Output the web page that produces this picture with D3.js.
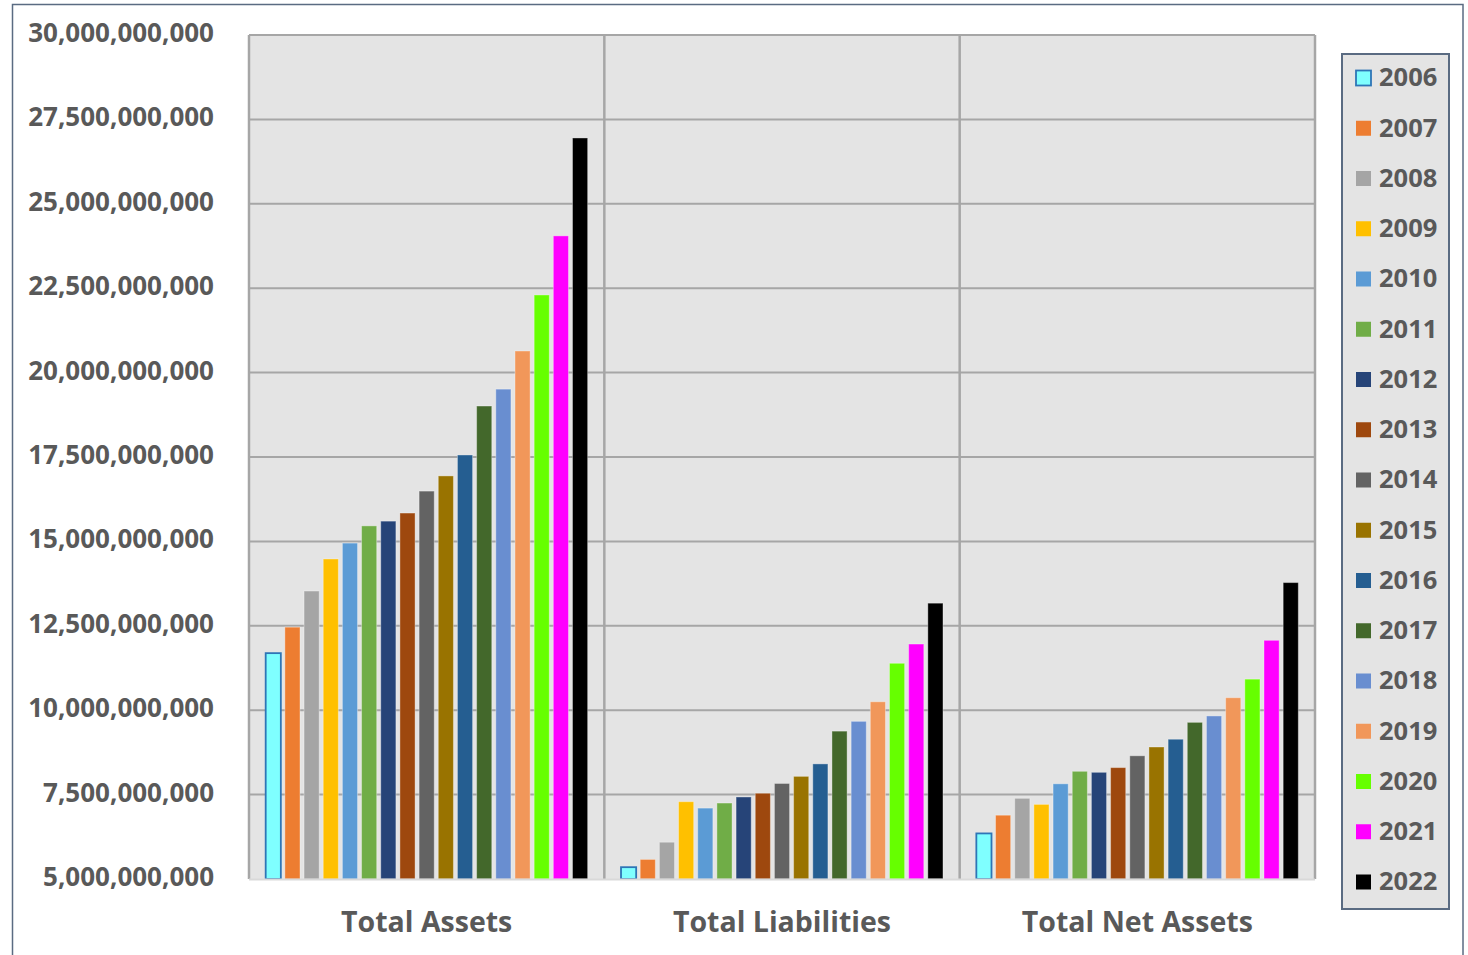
<!DOCTYPE html>
<html>
<head>
<meta charset="utf-8">
<script src="https://cdn.jsdelivr.net/npm/d3@7"></script>
<style>
  html, body { margin: 0; padding: 0; background: #fff; }
  svg { display: block; }
  text { font-family: "Open Sans", Lato, sans-serif; font-weight: 700; fill: #595959; }
</style>
</head>
<body>
<svg id="chart" width="1468" height="955"></svg>
<script>
const categories = ["Total Assets", "Total Liabilities", "Total Net Assets"];
const years = ["2006","2007","2008","2009","2010","2011","2012","2013","2014","2015","2016","2017","2018","2019","2020","2021","2022"];
const totalAssets      = [11.69e9,12.46e9,13.53e9,14.48e9,14.95e9,15.46e9,15.60e9,15.84e9,16.49e9,16.94e9,17.56e9,19.01e9,19.51e9,20.64e9,22.30e9,24.05e9,26.95e9];
const totalLiabilities = [5.35e9,5.58e9,6.09e9,7.29e9,7.10e9,7.25e9,7.43e9,7.54e9,7.83e9,8.04e9,8.41e9,9.38e9,9.67e9,10.25e9,11.39e9,11.96e9,13.17e9];
const totalNetAssets   = [6.35e9,6.89e9,7.39e9,7.21e9,7.82e9,8.19e9,8.16e9,8.30e9,8.65e9,8.91e9,9.14e9,9.64e9,9.83e9,10.37e9,10.92e9,12.07e9,13.78e9];
const colors = ["#7FFFFF","#ED7D31","#A5A5A5","#FFC000","#5B9BD5","#70AD47","#264478","#9E480E","#636363","#997300","#255E91","#43682B","#698ED0","#F1975A","#66FF00","#FF00FF","#000000"];
const yTicks = [5e9,7.5e9,10e9,12.5e9,15e9,17.5e9,20e9,22.5e9,25e9,27.5e9,30e9];

const seriesByCategory = [totalAssets, totalLiabilities, totalNetAssets];

const svg = d3.select("#chart");
const plot = {left: 249, right: 1315, top: 35, bottom: 879};
const FONT = "'Open Sans', Lato, sans-serif";

// outer border
svg.append("rect").attr("x", 12.5).attr("y", 4.5).attr("width", 1450.5).attr("height", 970)
  .attr("fill", "#fff").attr("stroke", "#5A6B82").attr("stroke-width", 1.5);

const x0 = d3.scaleBand().domain(categories).range([plot.left, plot.right]).padding(0);
const x1 = d3.scaleBand().domain(years).range([0, x0.bandwidth()]).paddingInner(0.21).paddingOuter(0.87);
const y = d3.scaleLinear().domain([5e9, 30e9]).range([plot.bottom, plot.top]);
const color = d3.scaleOrdinal().domain(years).range(colors);

// plot background
svg.append("rect").attr("x", plot.left).attr("y", plot.top)
  .attr("width", plot.right - plot.left).attr("height", plot.bottom - plot.top)
  .attr("fill", "#E4E4E4");

// gridlines
svg.append("g").selectAll("line").data(yTicks.filter(t => t > 5e9)).join("line")
  .attr("x1", plot.left).attr("x2", plot.right)
  .attr("y1", d => y(d)).attr("y2", d => y(d))
  .attr("stroke", "#A6A6A6").attr("stroke-width", 2);

// category dividers + left/right borders
const dividers = categories.map(c => x0(c)).concat([plot.right]);
svg.append("g").selectAll("line").data(dividers).join("line")
  .attr("x1", d => d).attr("x2", d => d)
  .attr("y1", plot.top).attr("y2", plot.bottom)
  .attr("stroke", "#A6A6A6").attr("stroke-width", 2.5);

// y axis labels
const yAxis = d3.axisLeft(y).tickValues(yTicks).tickSize(0).tickPadding(0)
  .tickFormat(d3.format(",.0f"));
const gy = svg.append("g").attr("transform", `translate(214,0)`).call(yAxis);
gy.select(".domain").remove();
gy.selectAll("text").attr("font-size", 26).attr("dy", "0.25em")
  .style("font-family", FONT).style("font-weight", 700).attr("fill", "#595959");

// bars
const groups = svg.append("g").selectAll("g").data(categories).join("g")
  .attr("transform", d => `translate(${x0(d)},0)`);
groups.selectAll("rect").data((c, i) => years.map((yr, j) => ({year: yr, value: seriesByCategory[i][j], j})))
  .join("rect")
  .attr("x", d => x1(d.year))
  .attr("y", d => y(d.value))
  .attr("width", x1.bandwidth())
  .attr("height", d => y(5e9) - y(d.value))
  .attr("fill", d => color(d.year))
  .attr("stroke", d => d.j === 0 ? "#2E75B6" : "rgba(255,255,255,0.35)")
  .attr("stroke-width", d => d.j === 0 ? 1.8 : 1);

// bottom axis line
svg.append("line").attr("x1", plot.left).attr("x2", plot.right)
  .attr("y1", plot.bottom + 0.5).attr("y2", plot.bottom + 0.5)
  .attr("stroke", "#D9D9D9").attr("stroke-width", 2);

// category labels
const xAxis = d3.axisBottom(x0).tickSize(0).tickPadding(0);
const gx = svg.append("g").attr("transform", `translate(0,${plot.bottom})`).call(xAxis);
gx.select(".domain").remove();
gx.selectAll("text").attr("font-size", 28.5).attr("y", 43.5).attr("dy", "0.35em")
  .style("font-family", FONT).style("font-weight", 700).attr("fill", "#595959");

// legend
const legend = svg.append("g");
legend.append("rect").attr("x", 1342).attr("y", 54).attr("width", 107).attr("height", 855)
  .attr("fill", "#E4E4E4").attr("stroke", "#5A6B82").attr("stroke-width", 2);
const ly = d3.scalePoint().domain(years).range([78, 882]);
const items = legend.selectAll("g").data(years).join("g")
  .attr("transform", d => `translate(1356,${ly(d)})`);
items.append("rect").attr("x", 0).attr("y", -7.5).attr("width", 15).attr("height", 15)
  .attr("fill", d => color(d))
  .attr("stroke", (d, i) => i === 0 ? "#2E75B6" : "none").attr("stroke-width", 1.8);
items.append("text").attr("x", 23).attr("y", 0).attr("dy", "0.33em")
  .attr("font-size", 25.5).text(d => d);
</script>
</body>
</html>
